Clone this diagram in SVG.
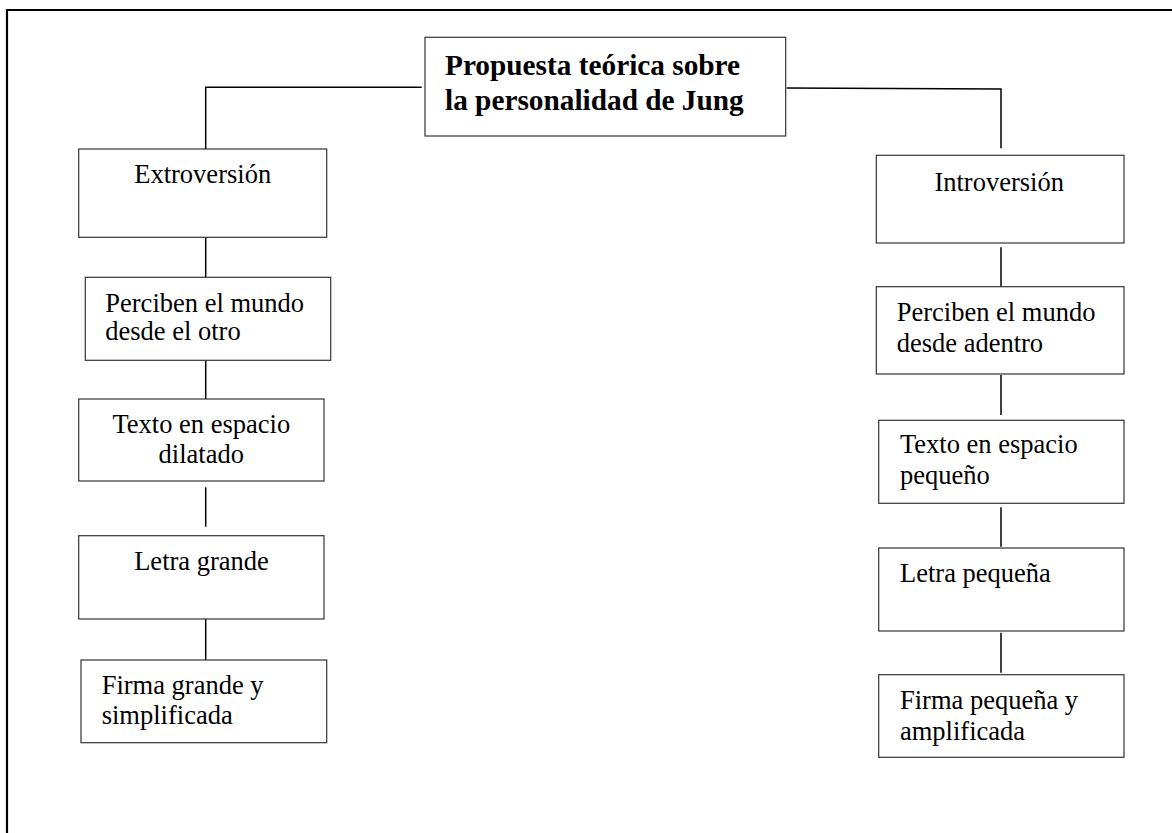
<svg xmlns="http://www.w3.org/2000/svg" width="1172" height="833" viewBox="0 0 1172 833">
<style>
.box{fill:#fff;stroke:#333;stroke-width:1.2}
.conn{stroke:#000;stroke-width:1.5;fill:none}
.frame{stroke:#000;stroke-width:2.2;fill:none}
.t{font-family:"Liberation Serif","Times New Roman",serif;font-size:26.5px;fill:#000}
.b{font-family:"Liberation Serif","Times New Roman",serif;font-size:29.3px;font-weight:bold;fill:#000}
</style>
<rect width="1172" height="833" fill="#fff"/>
<path class="frame" d="M7,834 V10 H1173"/>
<g id="connectors">
<path class="conn" d="M421.7,87.3 H205.7 V149"/>
<path class="conn" d="M786.7,88 L1001,89 V148.3"/>
<path class="conn" d="M205.7,237.3 V277.3"/>
<path class="conn" d="M205.7,360.3 V399"/>
<path class="conn" d="M205.7,487.3 V526.7"/>
<path class="conn" d="M205.7,619 V660"/>
<path class="conn" d="M1001,247.3 V287"/>
<path class="conn" d="M1001,375 V415"/>
<path class="conn" d="M1001,507.3 V546.7"/>
<path class="conn" d="M1001,632.7 V672.7"/>
</g>
<g id="root">
<rect class="box" x="425" y="37.3" width="360.7" height="98.7"/>
<text class="b" x="445" y="74.5">Propuesta teórica sobre</text>
<text class="b" x="445" y="109.5">la personalidad de Jung</text>
</g>
<g id="extroversion">
<rect class="box" x="78.7" y="149" width="248" height="88.3"/>
<text class="t" x="202.7" y="183.3" text-anchor="middle">Extroversión</text>
</g>
<g id="ext-percepcion">
<rect class="box" x="85.3" y="277.3" width="245.4" height="83"/>
<text class="t" x="105.3" y="311.7">Perciben el mundo</text>
<text class="t" x="105.3" y="340.2">desde el otro</text>
</g>
<g id="ext-texto">
<rect class="box" x="78.7" y="399" width="245.3" height="82"/>
<text class="t" x="201.3" y="432.7" text-anchor="middle">Texto en espacio</text>
<text class="t" x="201.3" y="462.7" text-anchor="middle">dilatado</text>
</g>
<g id="ext-letra">
<rect class="box" x="78.7" y="535.7" width="245.3" height="83.3"/>
<text class="t" x="201.5" y="570" text-anchor="middle">Letra grande</text>
</g>
<g id="ext-firma">
<rect class="box" x="81" y="660" width="245.7" height="82.7"/>
<text class="t" x="101.7" y="694">Firma grande y</text>
<text class="t" x="101.7" y="724">simplificada</text>
</g>
<g id="introversion">
<rect class="box" x="876.3" y="155.3" width="247.7" height="87.7"/>
<text class="t" x="999.2" y="190.7" text-anchor="middle">Introversión</text>
</g>
<g id="int-percepcion">
<rect class="box" x="876.3" y="286.7" width="247.7" height="87.3"/>
<text class="t" x="896.7" y="320.7">Perciben el mundo</text>
<text class="t" x="896.7" y="351.7">desde adentro</text>
</g>
<g id="int-texto">
<rect class="box" x="878.7" y="420.3" width="245.3" height="83"/>
<text class="t" x="900" y="452.7">Texto en espacio</text>
<text class="t" x="900" y="484">pequeño</text>
</g>
<g id="int-letra">
<rect class="box" x="878.7" y="548" width="245.3" height="83"/>
<text class="t" x="900" y="582.3">Letra pequeña</text>
</g>
<g id="int-firma">
<rect class="box" x="878.7" y="674.7" width="245.3" height="82.6"/>
<text class="t" x="900" y="709">Firma pequeña y</text>
<text class="t" x="900" y="740">amplificada</text>
</g>
</svg>
